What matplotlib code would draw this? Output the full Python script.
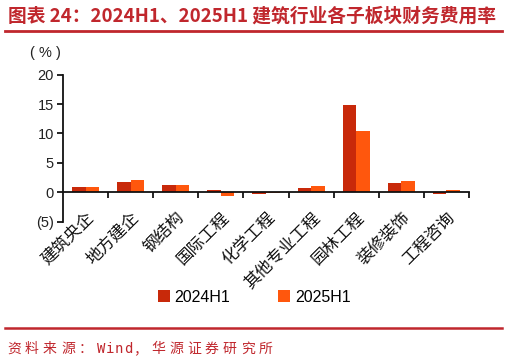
import matplotlib.pyplot as plt
import numpy as np
from matplotlib.lines import Line2D
from matplotlib.patches import Patch

plt.rcParams['font.family'] = ['Noto Sans CJK SC', 'DejaVu Sans']
plt.rcParams['axes.unicode_minus'] = False

categories = ['建筑央企', '地方建企', '钢结构', '国际工程', '化学工程',
              '其他专业工程', '园林工程', '装修装饰', '工程咨询']
h1_2024 = [0.9, 1.75, 1.25, 0.45, -0.3, 0.75, 14.8, 1.6, -0.3]
h1_2025 = [0.9, 2.1, 1.25, -0.7, -0.2, 1.0, 10.4, 2.0, 0.4]
series_names = ['2024H1', '2025H1']
yticks = [-5, 0, 5, 10, 15, 20]
ytick_labels = ['(5)', '0', '5', '10', '15', '20']

title = '图表 24：2024H1、2025H1 建筑行业各子板块财务费用率'
source = '资料来源：Wind，华源证券研究所'

RED = '#C0272D'
C24 = '#C8290A'
C25 = '#FF570D'

W, H = 507, 362
fig = plt.figure(figsize=(W / 100, H / 100), dpi=100)

ax = fig.add_axes([63 / W, 1 - 221.7 / H, (469 - 63) / W, (221.7 - 74.7) / H])
x = np.arange(len(categories))
bw = 0.3
ax.bar(x - bw / 2, h1_2024, bw, color=C24, zorder=2)
ax.bar(x + bw / 2, h1_2025, bw, color=C25, zorder=2)

ax.set_xlim(-0.5, len(categories) - 0.5)
ax.set_ylim(-5, 20)
ax.set_yticks(yticks)
ax.set_yticklabels(ytick_labels, fontsize=10.5, color='#222222',
                   family=['Liberation Sans', 'DejaVu Sans'])
ax.tick_params(axis='y', direction='out', length=4.5, width=1.2, pad=2)

for s in ['top', 'right']:
    ax.spines[s].set_visible(False)
ax.spines['bottom'].set_position(('data', 0))
for s in ['left', 'bottom']:
    ax.spines[s].set_linewidth(1.3)
    ax.spines[s].set_color('#111111')

ax.set_xticks(x + 0.5)
ax.set_xticklabels([])
ax.tick_params(axis='x', which='major', direction='out', length=4.5, width=1.2)
ax.set_xticks(x, minor=True)
ax.set_xticklabels(categories, minor=True, rotation=45, ha='right', va='top',
                   rotation_mode='anchor', fontsize=12, color='#111111')
ax.tick_params(axis='x', which='minor', length=0, pad=12)

fig.text(30 / W, 1 - 53 / H, '( % )', fontsize=10.5, va='center', ha='left',
         family=['Liberation Sans', 'DejaVu Sans'], color='#222222')

handles = [Patch(facecolor=C24), Patch(facecolor=C25)]
fig.legend(handles, series_names, loc='center', bbox_to_anchor=(254 / W, 1 - 297 / H),
           ncol=2, frameon=False, handlelength=0.75, handleheight=0.75,
           handletextpad=0.3, columnspacing=3.0,
           prop={'family': ['Liberation Sans', 'DejaVu Sans'], 'size': 11.5})

fig.text(8 / W, 1 - 16 / H, title, fontsize=13.5, fontweight='bold', color=RED,
         va='center', ha='left')
fig.add_artist(Line2D([5 / W, 502 / W], [1 - 30.7 / H] * 2, color=RED, lw=2))
fig.add_artist(Line2D([5 / W, 502 / W], [1 - 328.3 / H] * 2, color=RED, lw=1.8))

# footer: fixed pitch, full width 18px, half width 9px
px = 7
for ch in source:
    fig.text(px / W, 1 - 349 / H, ch, fontsize=10, color=RED, va='center', ha='left',
             family=['DejaVu Sans Mono', 'Noto Sans CJK SC'])
    px += 9 if ord(ch) < 128 else 18

fig.savefig('out.png', dpi=100)
